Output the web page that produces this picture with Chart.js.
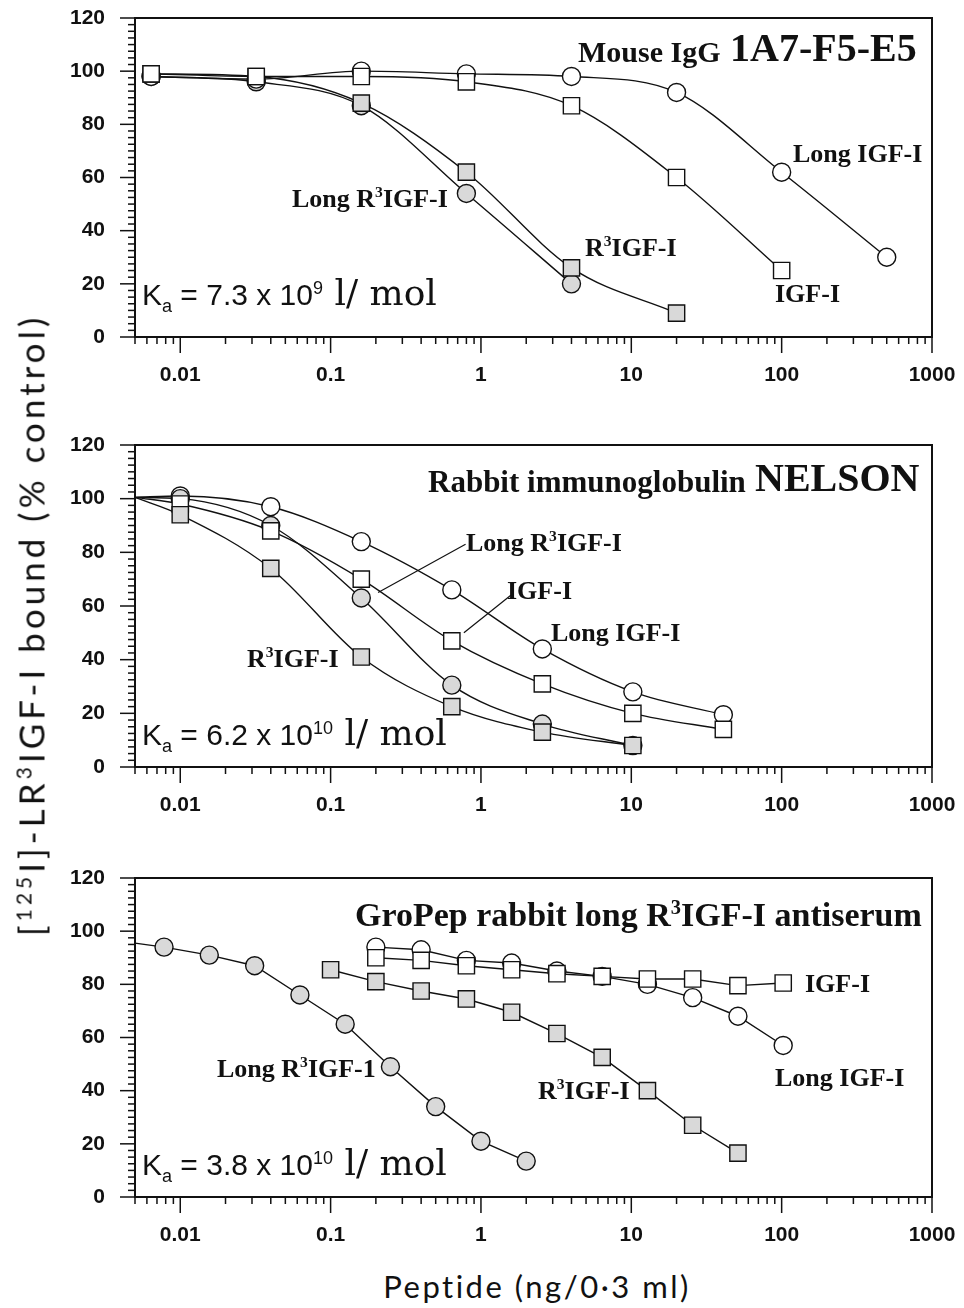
<!DOCTYPE html>
<html>
<head>
<meta charset="utf-8">
<title>IGF-I antibody competition curves</title>
<script src="https://cdn.jsdelivr.net/npm/chart.js@4.4.1/dist/chart.umd.min.js"></script>
<style>
    body { margin: 0; background: #fff; }
    #page { position: relative; width: 964px; height: 1308px; overflow: hidden; background: #fff; }
    .panel { position: absolute; left: 0; width: 964px; }
    .lbl { position: absolute; white-space: nowrap; line-height: 1; color: #111; }
    .serif { font-family: 'Liberation Serif', 'DejaVu Serif', serif; font-weight: bold; }
    .sans { font-family: 'Liberation Sans', Arial, sans-serif; }
    .rm { font-family: 'DejaVu Serif', 'Liberation Serif', serif; font-weight: normal; }
    .human { font-family: Lato, 'Open Sans', sans-serif; }
    sup, sub { font-size: 60%; line-height: 0; }
</style>
</head>
<body>
<div id="page">
    <div class="panel" style="top:0px"><canvas id="chartA" width="964" height="395"></canvas></div>
    <div class="panel" style="top:427px"><canvas id="chartB" width="964" height="398"></canvas></div>
    <div class="panel" style="top:860px"><canvas id="chartC" width="964" height="395"></canvas></div>
</div>
<script>
// Competition binding curves, three antibodies, log dose axis

// shared axes
const xTickValues = [0.01, 0.1, 1, 10, 100, 1000];
const xTickLabels = ['0.01', '0.1', '1', '10', '100', '1000'];
const yTickValues = [0, 20, 40, 60, 80, 100, 120];
const yTickLabels = ['0', '20', '40', '60', '80', '100', '120'];
const X_MIN = 0.005;
const X_MAX = 1000;

// Panel A - Mouse IgG 1A7-F5-E5 (5-fold dilutions)
const doseA = [0.0064, 0.032, 0.16, 0.8, 4, 20, 100, 500];
const longIgfA = [98, 97, 100, 99, 98, 92, 62, 30];
const igfA = [99, 98, 98, 96, 87, 60, 25];
const longR3A = [98, 96, 87, 54, 20];
const r3A = [99, 98, 88, 62, 26, 9];

// Panel B - Rabbit immunoglobulin NELSON (4-fold dilutions)
const doseB = [0.01, 0.04, 0.16, 0.64, 2.56, 10.24, 40.96];
const curveStartB = 100.5; // fitted curves start at the left edge
const longIgfB = [101, 97, 84, 66, 44, 28, 19.5];
const igfB = [98, 88, 70, 47, 31, 20, 14];
const longR3B = [100, 90, 63, 30.5, 16, 8];
const r3B = [94, 74, 41, 22.5, 13, 8];

// Panel C - GroPep rabbit long R3IGF-I antiserum (2-fold dilutions)
const doseLongR3C = [0.0078, 0.0156, 0.03125, 0.0625, 0.125, 0.25, 0.5, 1, 2];
const curveStartC = 95.5;
const longR3C = [94, 91, 87, 76, 65, 49, 34, 21, 13.5];
const doseR3C = [0.1, 0.2, 0.4, 0.8, 1.6, 3.2, 6.4, 12.8, 25.6, 51.2];
const r3C = [85.5, 81, 77.5, 74.5, 69.5, 61.5, 52.5, 40, 27, 16.5];
const doseIgfC = [0.2, 0.4, 0.8, 1.6, 3.2, 6.4, 12.8, 25.6, 51.2, 102.4];
const igfC = [90, 89, 87, 85.5, 84, 83, 82, 82, 79.5, 80.5];
const longIgfC = [94, 93, 89, 88, 85, 83, 80, 75, 68, 57];

const OPEN = '#ffffff';
const SHADED = '#d9d9d9';

function series(label, xs, ys, shape, fill, smooth, startY) {
    const pts = ys.map((v, i) => ({ x: xs[i], y: v }));
    const radius = pts.map(() => (shape === 'circle' ? 9 : 11.5));
    if (startY !== undefined) {
        pts.unshift({ x: X_MIN, y: startY });
        radius.unshift(0);
    }
    return {
        label: label,
        data: pts,
        borderColor: '#111',
        borderWidth: 1.4,
        pointStyle: shape,
        pointRadius: radius,
        pointBackgroundColor: fill,
        pointBorderColor: '#111',
        pointBorderWidth: 1.4,
        cubicInterpolationMode: smooth ? 'monotone' : 'default',
        tension: smooth ? 0.4 : 0,
        fill: false,
        clip: false
    };
}

// frame box, outward minor/major ticks, leader lines
const frameTicks = {
    id: 'frameTicks',
    afterDraw(chart, args, opts) {
        const { ctx, chartArea: a, scales: { x, y } } = chart;
        ctx.save();
        ctx.strokeStyle = '#111';
        ctx.lineWidth = 1.5;
        for (let e = -3; e <= 3; e++) {
            for (let m = 1; m <= 9; m++) {
                const v = m * Math.pow(10, e);
                if (v < x.min * 0.999 || v > x.max * 1.001) continue;
                const px = x.getPixelForValue(v);
                const len = m === 1 ? 16 : 7;
                ctx.beginPath();
                ctx.moveTo(px, a.bottom);
                ctx.lineTo(px, a.bottom + len);
                ctx.stroke();
            }
        }
        for (let v = 0; v <= 120; v += 2.5) {
            const py = y.getPixelForValue(v);
            const len = v % 20 === 0 ? 15 : 7;
            ctx.beginPath();
            ctx.moveTo(a.left, py);
            ctx.lineTo(a.left - len, py);
            ctx.stroke();
        }
        (opts.leaders || []).forEach(l => {
            ctx.lineWidth = 1.2;
            ctx.beginPath();
            ctx.moveTo(x.getPixelForValue(l[0]), y.getPixelForValue(l[1]));
            ctx.lineTo(x.getPixelForValue(l[2]), y.getPixelForValue(l[3]));
            ctx.stroke();
        });
        ctx.lineWidth = 2;
        ctx.strokeRect(a.left, a.top, a.right - a.left, a.bottom - a.top);
        ctx.restore();
    }
};

function makeChart(id, datasets, leaders) {
    const tickFont = { family: "'Liberation Sans', Arial, sans-serif", size: 21, weight: 'bold' };
    return new Chart(document.getElementById(id), {
        type: 'line',
        data: { datasets: datasets },
        options: {
            responsive: false,
            animation: false,
            layout: { padding: { left: 0, right: 32, top: 18, bottom: 0 } },
            plugins: {
                legend: { display: false },
                tooltip: { enabled: false },
                frameTicks: { leaders: leaders || [] }
            },
            scales: {
                x: {
                    type: 'logarithmic',
                    min: X_MIN,
                    max: X_MAX,
                    afterFit: s => {
                        s.height = 58;
                        s.paddingLeft = 0;
                        s.paddingRight = 0;
                    },
                    afterBuildTicks: s => { s.ticks = xTickValues.map(v => ({ value: v })); },
                    ticks: {
                        autoSkip: false,
                        maxRotation: 0,
                        padding: 26,
                        color: '#111',
                        font: tickFont,
                        callback: (v, i) => xTickLabels[i]
                    },
                    grid: { display: false, drawTicks: false },
                    border: { display: false }
                },
                y: {
                    min: 0,
                    max: 120,
                    afterFit: s => {
                        s.width = 135;
                        s.paddingTop = 0;
                        s.paddingBottom = 0;
                    },
                    afterBuildTicks: s => { s.ticks = yTickValues.map(v => ({ value: v })); },
                    ticks: {
                        padding: 30,
                        color: '#111',
                        font: tickFont,
                        callback: (v, i) => yTickLabels[i]
                    },
                    grid: { display: false, drawTicks: false },
                    border: { display: false }
                }
            }
        },
        plugins: [frameTicks]
    });
}

makeChart('chartA', [
    series('IGF-I', doseA, igfA, 'rect', OPEN, true),
    series('R3IGF-I', doseA, r3A, 'rect', SHADED, true),
    series('Long IGF-I', doseA, longIgfA, 'circle', OPEN, true),
    series('Long R3IGF-I', doseA, longR3A, 'circle', SHADED, true)
]);

makeChart('chartB', [
    series('R3IGF-I', doseB, r3B, 'rect', SHADED, true, curveStartB),
    series('IGF-I', doseB, igfB, 'rect', OPEN, true, curveStartB),
    series('Long R3IGF-I', doseB, longR3B, 'circle', SHADED, true, curveStartB),
    series('Long IGF-I', doseB, longIgfB, 'circle', OPEN, true, curveStartB)
], [[0.207, 65, 0.79, 83], [0.77, 50, 1.58, 64]]);

makeChart('chartC', [
    series('Long R3IGF-I', doseLongR3C, longR3C, 'circle', SHADED, false, curveStartC),
    series('R3IGF-I', doseR3C, r3C, 'rect', SHADED, false),
    series('IGF-I', doseIgfC, igfC, 'rect', OPEN, false),
    series('Long IGF-I', doseIgfC, longIgfC, 'circle', OPEN, false)
]);

// text annotations: [html, class, font size, left x, baseline y]
const KA_UNIT = '<span class="rm" style="font-size:36px"> l/ mol</span>';
const notes = [
    ['Mouse IgG', 'serif', 30, 578, 62],
    ['1A7-F5-E5', 'serif', 40, 730, 62],
    ['Long IGF-I', 'serif', 26, 793, 163],
    ['Long R<sup>3</sup>IGF-I', 'serif', 26, 292, 208],
    ['R<sup>3</sup>IGF-I', 'serif', 26, 585, 257],
    ['IGF-I', 'serif', 26, 775, 303],
    ['K<sub>a</sub> = 7.3 x 10<sup>9</sup>' + KA_UNIT, 'sans', 30, 142, 300],

    ['Rabbit immunoglobulin', 'serif', 31, 428, 492],
    ['NELSON', 'serif', 40, 755, 492],
    ['Long R<sup>3</sup>IGF-I', 'serif', 26, 466, 552],
    ['IGF-I', 'serif', 26, 507, 600],
    ['Long IGF-I', 'serif', 26, 551, 642],
    ['R<sup>3</sup>IGF-I', 'serif', 26, 247, 668],
    ['K<sub>a</sub> = 6.2 x 10<sup>10</sup>' + KA_UNIT, 'sans', 30, 142, 740],

    ['GroPep rabbit long R<sup>3</sup>IGF-I antiserum', 'serif', 34, 355, 927],
    ['IGF-I', 'serif', 26, 805, 993],
    ['Long IGF-I', 'serif', 26, 775, 1087],
    ['R<sup>3</sup>IGF-I', 'serif', 26, 538, 1100],
    ['Long R<sup>3</sup>IGF-1', 'serif', 26, 217, 1078],
    ['K<sub>a</sub> = 3.8 x 10<sup>10</sup>' + KA_UNIT, 'sans', 30, 142, 1170]
];

const page = document.getElementById('page');
notes.forEach(n => {
    const d = document.createElement('div');
    d.className = 'lbl ' + n[1];
    d.style.fontSize = n[2] + 'px';
    d.style.left = n[3] + 'px';
    d.style.top = (n[4] - 0.84 * n[2]) + 'px';
    d.innerHTML = n[0];
    page.appendChild(d);
});

// axis titles
const xTitle = document.createElement('div');
xTitle.className = 'lbl human';
xTitle.style.cssText = 'font-size:31px; letter-spacing:2.5px; left:537px; top:1271px; transform:translateX(-50%);';
xTitle.textContent = 'Peptide (ng/0\u00b73 ml)';
page.appendChild(xTitle);

const yTitle = document.createElement('div');
yTitle.className = 'lbl human';
yTitle.style.cssText = 'font-size:35px; letter-spacing:4px; left:31px; top:625px; transform:translate(-50%,-50%) rotate(-90deg);';
yTitle.innerHTML = '[<sup>125</sup>I]-LR<sup>3</sup>IGF-I bound (% control)';
page.appendChild(yTitle);
</script>
</body>
</html>
